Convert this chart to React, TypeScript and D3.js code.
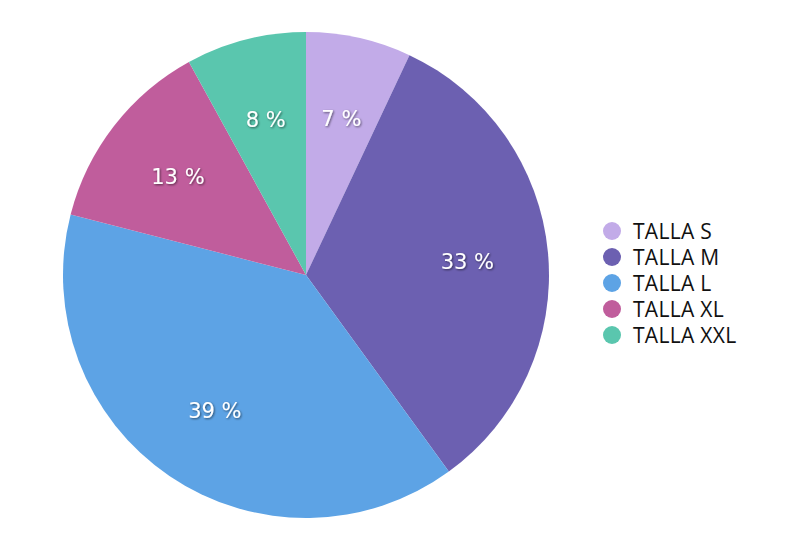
import React from "react";
import * as d3 from "d3";

const categories = ["TALLA S", "TALLA M", "TALLA L", "TALLA XL", "TALLA XXL"];
const values = [7, 33, 39, 13, 8];
const colors = ["#c2abe8", "#6c60b1", "#5da3e5", "#c05d9c", "#5ac6ae"];

const width = 794;
const height = 544;

export default function App() {
  const ref = React.useRef<SVGSVGElement>(null);

  React.useEffect(() => {
    const svg = d3.select(ref.current);
    svg.selectAll("*").remove();

    const cx = 306;
    const cy = 275;
    const radius = 243;
    const data = categories.map((c, i) => ({ label: c, value: values[i], color: colors[i] }));
    const total = d3.sum(values);

    const defs = svg.append("defs");
    const filter = defs.append("filter").attr("id", "shadow").attr("x", "-20%").attr("y", "-20%").attr("width", "140%").attr("height", "140%");
    filter.append("feDropShadow").attr("dx", 1).attr("dy", 1).attr("stdDeviation", 1).attr("flood-color", "#000").attr("flood-opacity", 0.55);

    const pie = d3.pie<any>().value(d => d.value).sort(null)(data);
    const arc = d3.arc<any>().innerRadius(0).outerRadius(radius);
    const labelArc = d3.arc<any>().innerRadius(radius * 0.667).outerRadius(radius * 0.667);

    const g = svg.append("g").attr("transform", `translate(${cx},${cy})`);
    g.selectAll("path.slice")
      .data(pie)
      .enter()
      .append("path")
      .attr("class", "slice")
      .attr("d", arc)
      .attr("fill", d => d.data.color);

    g.selectAll("text.pct")
      .data(pie)
      .enter()
      .append("text")
      .attr("class", "pct")
      .attr("transform", d => `translate(${labelArc.centroid(d)})`)
      .attr("text-anchor", "middle")
      .attr("dy", "0.42em")
      .attr("fill", "#fff")
      .attr("filter", "url(#shadow)")
      .style("font-family", "'DejaVu Sans', sans-serif")
      .style("font-size", "21px")
      .text(d => `${Math.round((d.data.value / total) * 100)} %`);

    const legend = svg.append("g").attr("transform", "translate(612,231)");
    const items = legend
      .selectAll("g.item")
      .data(data)
      .enter()
      .append("g")
      .attr("class", "item")
      .attr("transform", (d, i) => `translate(0,${i * 26})`);
    items.append("circle").attr("r", 9).attr("fill", d => d.color);
    items
      .append("text")
      .attr("x", 21)
      .attr("dy", "0.36em")
      .attr("fill", "#111")
      .style("font-family", "'Open Sans', sans-serif")
      .style("font-size", "21px")
      .style("letter-spacing", "0.3px")
      .text(d => d.label);
  }, []);

  return (
    <svg
      ref={ref}
      width={width}
      height={height}
      style={{ position: "absolute", left: 0, top: 0, background: "#fff" }}
    />
  );
}
